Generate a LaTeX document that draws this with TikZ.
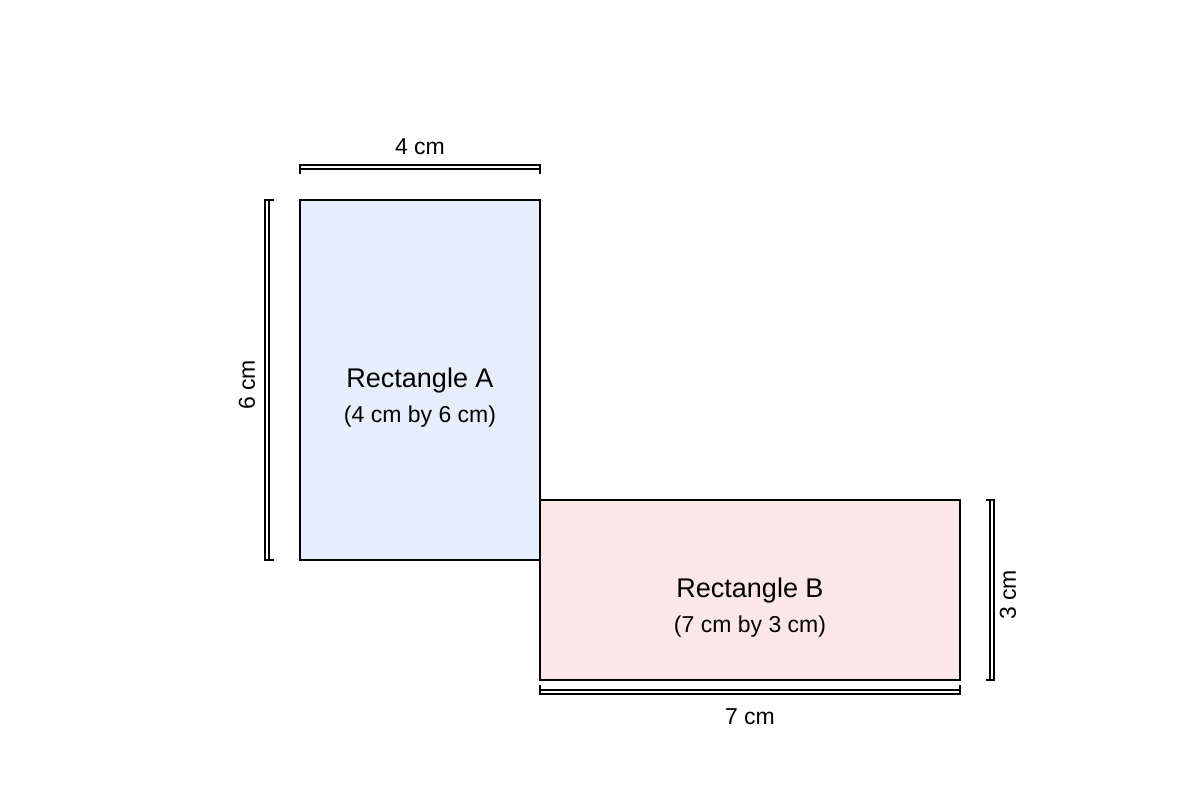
\documentclass[tikz,border=0pt]{standalone}
\usepackage{fontspec}
\setmainfont{Liberation Sans}
\definecolor{fillA}{HTML}{E7EEFB}
\definecolor{fillB}{HTML}{FBE7E7}
\tikzset{
  box/.style={draw=black, line width=1.2pt},
  dim/.style={draw=black, line width=0.9pt},
  lbl/.style={font=\fontsize{11.5}{13}\selectfont, inner sep=0pt}
}
\begin{document}
\begin{tikzpicture}[x=0.5pt, y=-0.5pt]
    \useasboundingbox (0,0) rectangle (1200,800);
    % --- rectangles ---
    \draw[box, fill=fillA] (300,200) rectangle (540,560);
    \draw[box, fill=fillB] (540,500) rectangle (960,680);
    \node[font=\fontsize{13.5}{15}\selectfont] (titleA) at (420,381) {Rectangle A};
    \node[lbl] (subA) at (420,417) {(4 cm by 6 cm)};
    \node[font=\fontsize{13.5}{15}\selectfont] (titleB) at (750,591) {Rectangle B};
    \node[lbl] (subB) at (750,627) {(7 cm by 3 cm)};
    % --- dimension lines ---
    \draw[dim] (300,174) -- (300,165) -- (540,165) -- (540,174);
    \draw[dim] (300,169) -- (540,169);
    \node[lbl] (wA) at (420,147) {4 cm};
    \draw[dim] (274,200) -- (265,200) -- (265,560) -- (274,560);
    \draw[dim] (269,200) -- (269,560);
    \node[lbl, rotate=90] (hA) at (247,385) {6 cm};
    \draw[dim] (986,500) -- (994,500) -- (994,680) -- (986,680);
    \draw[dim] (990,500) -- (990,680);
    \node[lbl, rotate=90] (hB) at (1008,595) {3 cm};
    \draw[dim] (540,685) -- (540,694) -- (960,694) -- (960,685);
    \draw[dim] (540,690) -- (960,690);
    \node[lbl] (wB) at (750,717) {7 cm};
    % ---
\end{tikzpicture}
\end{document}
